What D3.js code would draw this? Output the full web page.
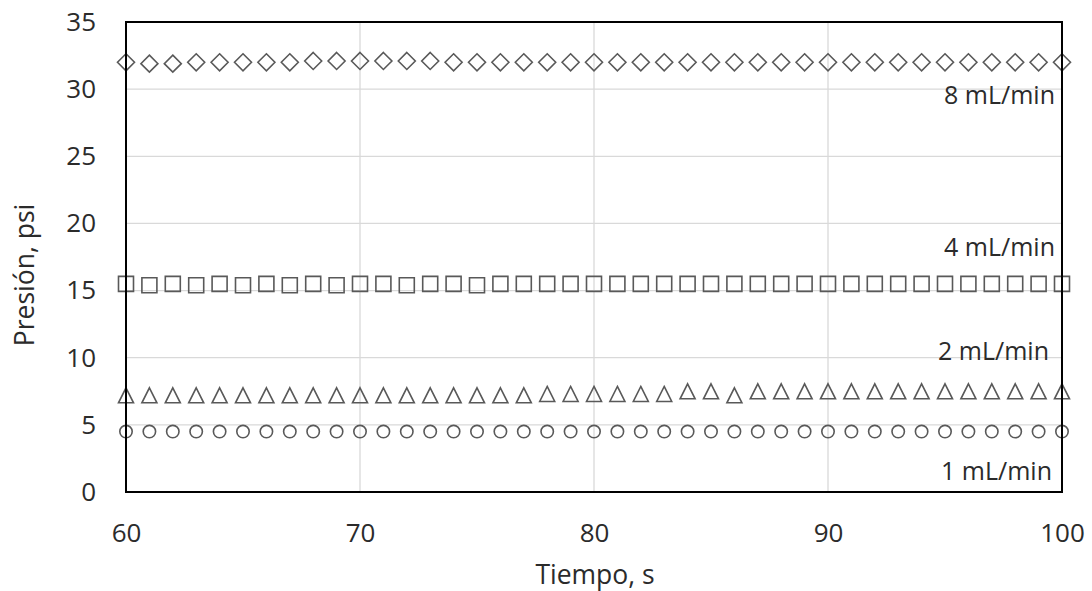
<!DOCTYPE html>
<html>
<head>
<meta charset="utf-8">
<script src="https://cdn.jsdelivr.net/npm/d3@7"></script>
<style>
  html, body { margin: 0; padding: 0; background: #fff; }
  svg { display: block; }
  text { font-family: "Open Sans", "Liberation Sans", sans-serif; fill: #2b2b2b; }
</style>
</head>
<body>
<svg id="chart" width="1092" height="591"></svg>
<script>
// Time axis, seconds
const time = [60, 61, 62, 63, 64, 65, 66, 67, 68, 69, 70, 71, 72, 73, 74, 75, 76, 77, 78, 79, 80,
              81, 82, 83, 84, 85, 86, 87, 88, 89, 90, 91, 92, 93, 94, 95, 96, 97, 98, 99, 100];

// Pressure (psi) for each flow rate
const p8 = [32.0, 31.9, 31.9, 32.0, 32.0, 32.0, 32.0, 32.0, 32.1, 32.1, 32.1, 32.1, 32.1, 32.1, 32.0, 32.0, 32.0, 32.0, 32.0, 32.0, 32.0,
            32.0, 32.0, 32.0, 32.0, 32.0, 32.0, 32.0, 32.0, 32.0, 32.0, 32.0, 32.0, 32.0, 32.0, 32.0, 32.0, 32.0, 32.0, 32.0, 32.0];
const p4 = [15.5, 15.4, 15.5, 15.4, 15.5, 15.4, 15.5, 15.4, 15.5, 15.4, 15.5, 15.5, 15.4, 15.5, 15.5, 15.4, 15.5, 15.5, 15.5, 15.5, 15.5,
            15.5, 15.5, 15.5, 15.5, 15.5, 15.5, 15.5, 15.5, 15.5, 15.5, 15.5, 15.5, 15.5, 15.5, 15.5, 15.5, 15.5, 15.5, 15.5, 15.5];
const p2 = [7.2, 7.2, 7.2, 7.2, 7.2, 7.2, 7.2, 7.2, 7.2, 7.2, 7.2, 7.2, 7.2, 7.2, 7.2, 7.2, 7.2, 7.2, 7.3, 7.3, 7.3,
            7.3, 7.3, 7.3, 7.5, 7.5, 7.2, 7.5, 7.5, 7.5, 7.5, 7.5, 7.5, 7.5, 7.5, 7.5, 7.5, 7.5, 7.5, 7.5, 7.5];
const p1 = [4.5, 4.5, 4.5, 4.5, 4.5, 4.5, 4.5, 4.5, 4.5, 4.5, 4.5, 4.5, 4.5, 4.5, 4.5, 4.5, 4.5, 4.5, 4.5, 4.5, 4.5,
            4.5, 4.5, 4.5, 4.5, 4.5, 4.5, 4.5, 4.5, 4.5, 4.5, 4.5, 4.5, 4.5, 4.5, 4.5, 4.5, 4.5, 4.5, 4.5, 4.5];

// Tick values and series labels
const xTicks = [60, 70, 80, 90, 100];
const yTicks = [0, 5, 10, 15, 20, 25, 30, 35];
const seriesNames = ["8 mL/min", "4 mL/min", "2 mL/min", "1 mL/min"];

// Layout
const plot = { left: 126, right: 1062, top: 22, bottom: 492 };
const labelY = [28.9, 17.6, 9.8, 0.9];   // baseline of each series label, in psi
const labelX = [1055, 1055, 1049, 1052];  // right edge of each label, px

const svg = d3.select("#chart");

const x = d3.scaleLinear().domain([60, 100]).range([plot.left, plot.right]);
const y = d3.scaleLinear().domain([0, 35]).range([plot.bottom, plot.top]);

// Gridlines
const grid = svg.append("g");
grid.selectAll("line.h").data(yTicks.filter(v => v > 0 && v < 35)).join("line")
  .attr("x1", plot.left).attr("x2", plot.right)
  .attr("y1", d => y(d)).attr("y2", d => y(d))
  .attr("stroke", "#d9d9d9").attr("stroke-width", 1.3);
grid.selectAll("line.v").data(xTicks.filter(v => v > 60 && v < 100)).join("line")
  .attr("y1", plot.top).attr("y2", plot.bottom)
  .attr("x1", d => x(d)).attr("x2", d => x(d))
  .attr("stroke", "#d9d9d9").attr("stroke-width", 1.3);

// Axes (tick labels only; the frame is drawn separately)
const xAxis = svg.append("g")
  .attr("transform", `translate(0,${plot.bottom})`)
  .call(d3.axisBottom(x).tickValues(xTicks).tickSize(0).tickPadding(32));
const yAxis = svg.append("g")
  .attr("transform", `translate(${plot.left},0)`)
  .call(d3.axisLeft(y).tickValues(yTicks).tickSize(0).tickPadding(30));
[xAxis, yAxis].forEach(g => {
  g.select(".domain").remove();
  g.selectAll("text").style("font-size", "26px").attr("fill", "#2b2b2b")
    .style("font-family", "'Open Sans', sans-serif");
});

// Marker shapes
const diamond = {
  draw(ctx, r) {
    ctx.moveTo(0, -r); ctx.lineTo(r, 0); ctx.lineTo(0, r); ctx.lineTo(-r, 0); ctx.closePath();
  }
};
const square = {
  draw(ctx, r) {
    ctx.rect(-r, -r, 2 * r, 2 * r);
  }
};
const triangle = {
  draw(ctx, r) {
    ctx.moveTo(0, -r); ctx.lineTo(r, r); ctx.lineTo(-r, r); ctx.closePath();
  }
};
const circle = {
  draw(ctx, r) {
    ctx.moveTo(r, 0); ctx.arc(0, 0, r, 0, 2 * Math.PI);
  }
};

const series = [
  { values: p8, type: diamond, size: 8.5 },
  { values: p4, type: square, size: 7.5 },
  { values: p2, type: triangle, size: 7.5 },
  { values: p1, type: circle, size: 6.2 }
];

const marks = svg.append("g");
series.forEach(s => {
  const sym = d3.symbol().type(s.type).size(s.size);
  marks.append("g").selectAll("path")
    .data(time.map((t, i) => [t, s.values[i]]))
    .join("path")
    .attr("transform", d => `translate(${x(d[0])},${y(d[1])})`)
    .attr("d", sym)
    .attr("fill", "none")
    .attr("stroke", "#595959")
    .attr("stroke-width", 1.6);
});

// Plot frame
svg.append("rect")
  .attr("x", plot.left).attr("y", plot.top)
  .attr("width", plot.right - plot.left).attr("height", plot.bottom - plot.top)
  .attr("fill", "none").attr("stroke", "#000").attr("stroke-width", 2);

// Series labels
svg.append("g").selectAll("text").data(seriesNames).join("text")
  .attr("x", (d, i) => labelX[i])
  .attr("y", (d, i) => y(labelY[i]))
  .attr("text-anchor", "end")
  .style("font-size", "25px")
  .text(d => d);

// Axis titles
svg.append("text")
  .attr("x", 595).attr("y", 584)
  .attr("text-anchor", "middle")
  .style("font-size", "26.5px")
  .text("Tiempo, s");
svg.append("text")
  .attr("transform", "translate(34,275) rotate(-90)")
  .attr("text-anchor", "middle")
  .style("font-size", "26.5px")
  .text("Presión, psi");
</script>
</body>
</html>
